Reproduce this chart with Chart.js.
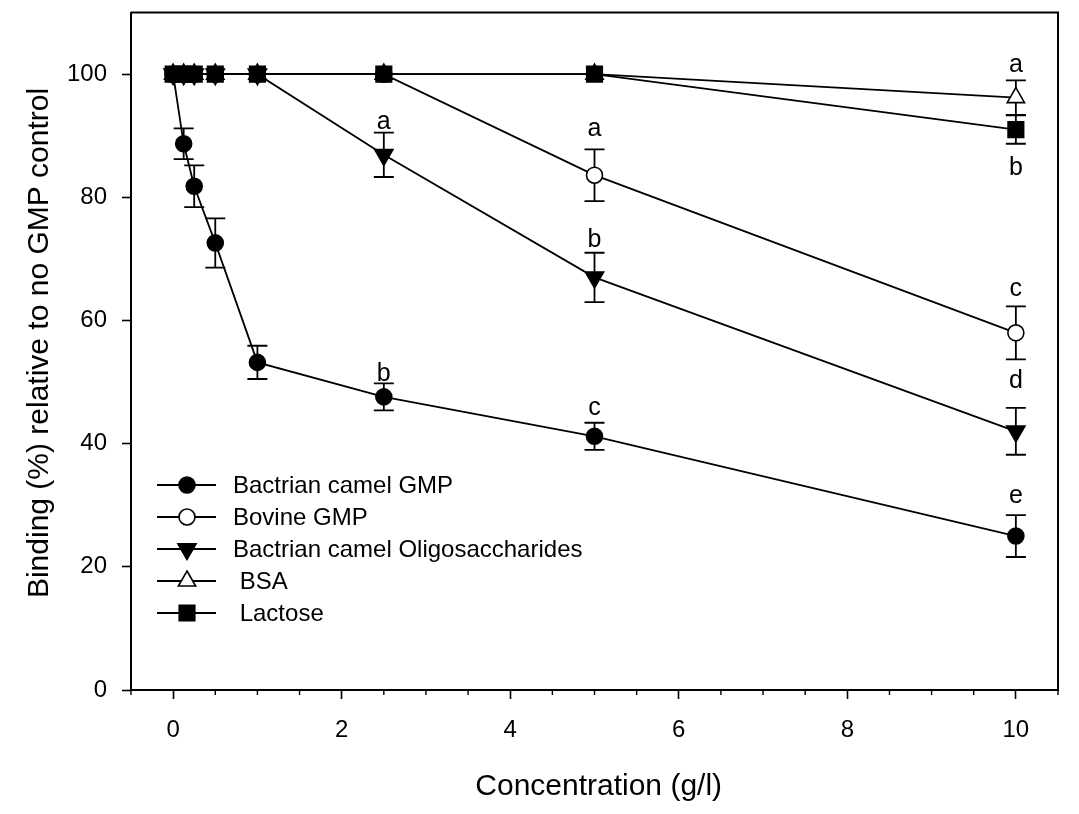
<!DOCTYPE html>
<html>
<head>
<meta charset="utf-8">
<script src="https://cdn.jsdelivr.net/npm/chart.js@4.4.0/dist/chart.umd.min.js"></script>
<style>
  html, body { margin: 0; padding: 0; background: #fff; }
  #wrap { width: 1079px; height: 814px; }
</style>
</head>
<body>
<div id="wrap"><canvas id="chart" width="1079" height="814"></canvas></div>
<script>
// concentrations (g/l) and binding (%) per treatment
const concentrations = [0, 0.125, 0.25, 0.5, 1, 2.5, 5, 10];

const camelGmp      = [100, 88.7, 81.8, 72.6, 53.2, 47.6, 41.2, 25.0];
const camelGmpErr   = [0, 2.5, 3.4, 4.0, 2.7, 2.2, 2.2, 3.4];
const bovineGmp     = [100, 100, 100, 100, 100, 100, 83.6, 58.0];
const bovineGmpErr  = [0, 0, 0, 0, 0, 0, 4.2, 4.3];
const camelOligo    = [100, 100, 100, 100, 100, 86.9, 67.0, 42.0];
const camelOligoErr = [0, 0, 0, 0, 0, 3.6, 4.0, 3.8];
const bsa           = [100, 100, 100, 100, 100, 100, 100, 96.2];
const bsaErr        = [0, 0, 0, 0, 0, 0, 0, 2.8];
const lactose       = [100, 100, 100, 100, 100, 100, 100, 91.0];
const lactoseErr    = [0, 0, 0, 0, 0, 0, 0, 2.3];

const seriesNames = ['Bactrian camel GMP', 'Bovine GMP', 'Bactrian camel Oligosaccharides', ' BSA', ' Lactose'];

// significance letters (x, baseline y)
const letterX    = [2.5, 2.5, 5, 5, 5, 10, 10, 10, 10, 10];
const letterY    = [91.1, 50.2, 89.9, 71.9, 44.7, 100.4, 83.6, 63.9, 49.0, 30.4];
const letterText = ['a', 'b', 'a', 'b', 'c', 'a', 'b', 'c', 'd', 'e'];

const xTicks = [0, 2, 4, 6, 8, 10];
const yTicks = [0, 20, 40, 60, 80, 100];

const FONT = "'Liberation Sans', Arial, sans-serif";
const LW = 1.8;
const AXIS_LW = 2;

function pts(ys) {
  return concentrations.map((x, i) => ({ x: x, y: ys[i] }));
}

function series(label, ys, errs, style, fill, radius, rotation, order) {
  return {
    label: label,
    data: pts(ys),
    errs: errs,
    borderColor: '#000',
    borderWidth: LW,
    backgroundColor: fill,
    pointBackgroundColor: fill,
    pointBorderColor: '#000',
    pointBorderWidth: 1.6,
    pointStyle: style,
    pointRadius: radius,
    pointRotation: rotation,
    tension: 0,
    order: order
  };
}

const datasets = [
  series(seriesNames[0], camelGmp, camelGmpErr, 'circle', '#000', 8, 0, 4),
  series(seriesNames[1], bovineGmp, bovineGmpErr, 'circle', '#fff', 8, 0, 3),
  series(seriesNames[2], camelOligo, camelOligoErr, 'triangle', '#000', 10.5, 180, 2),
  series(seriesNames[3], bsa, bsaErr, 'triangle', '#fff', 10, 0, 1),
  series(seriesNames[4], lactose, lactoseErr, 'rect', '#000', 11, 0, 0)
];

// error bars, drawn behind the markers
const errorBars = {
  id: 'errorBars',
  beforeDatasetsDraw(chart) {
    const ctx = chart.ctx, y = chart.scales.y, x = chart.scales.x;
    ctx.save();
    ctx.strokeStyle = '#000';
    ctx.lineWidth = LW;
    chart.data.datasets.forEach(ds => {
      ds.data.forEach((p, i) => {
        const e = ds.errs[i];
        if (!e) return;
        const px = x.getPixelForValue(p.x);
        const top = y.getPixelForValue(p.y + e);
        const bot = y.getPixelForValue(p.y - e);
        ctx.beginPath();
        ctx.moveTo(px, top); ctx.lineTo(px, bot);
        ctx.moveTo(px - 10, top); ctx.lineTo(px + 10, top);
        ctx.moveTo(px - 10, bot); ctx.lineTo(px + 10, bot);
        ctx.stroke();
      });
    });
    ctx.restore();
  }
};

// frame, minor ticks, letters, legend
const extras = {
  id: 'extras',
  afterDraw(chart) {
    const ctx = chart.ctx, a = chart.chartArea;
    const x = chart.scales.x, y = chart.scales.y;
    ctx.save();
    ctx.strokeStyle = '#000';
    ctx.lineWidth = AXIS_LW;
    ctx.beginPath();
    ctx.moveTo(a.left, a.top); ctx.lineTo(a.right, a.top); ctx.lineTo(a.right, a.bottom);
    ctx.stroke();

    // minor ticks every 0.5 on x
    ctx.lineWidth = 1.4;
    ctx.beginPath();
    for (let v = x.min; v <= x.max + 1e-9; v += 0.5) {
      if (xTicks.includes(v)) continue;
      const px = x.getPixelForValue(v);
      ctx.moveTo(px, a.bottom); ctx.lineTo(px, a.bottom + 5);
    }
    ctx.stroke();

    // significance letters
    ctx.fillStyle = '#000';
    ctx.font = '25px ' + FONT;
    ctx.textAlign = 'center';
    ctx.textBaseline = 'alphabetic';
    letterText.forEach((t, i) => {
      ctx.fillText(t, x.getPixelForValue(letterX[i]), y.getPixelForValue(letterY[i]));
    });

    // legend inside the plot, lower left
    const lx = a.left + 26, rowY = 485, gap = 32;
    ctx.font = '24px ' + FONT;
    ctx.textAlign = 'left';
    ctx.textBaseline = 'middle';
    chart.data.datasets.forEach((ds, i) => {
      const cy = rowY + i * gap;
      ctx.lineWidth = LW;
      ctx.beginPath();
      ctx.moveTo(lx, cy); ctx.lineTo(lx + 59, cy);
      ctx.stroke();
      ctx.fillStyle = ds.pointBackgroundColor;
      ctx.lineWidth = 1.6;
      Chart.helpers.drawPoint(ctx, {
        pointStyle: ds.pointStyle,
        rotation: ds.pointRotation,
        radius: ds.pointRadius,
        borderWidth: 1.6
      }, lx + 30, cy);
      ctx.fillStyle = '#000';
      ctx.fillText(ds.label, lx + 76, cy + 1);
    });
    ctx.restore();
  }
};

new Chart(document.getElementById('chart'), {
  type: 'line',
  data: { datasets: datasets },
  plugins: [errorBars, extras],
  options: {
    responsive: false,
    animation: false,
    devicePixelRatio: 1,
    layout: { padding: { top: 12, right: 21, left: 0, bottom: 0 } },
    plugins: { legend: { display: false }, tooltip: { enabled: false } },
    scales: {
      x: {
        type: 'linear',
        min: -0.5,
        max: 10.5,
        afterBuildTicks: s => { s.ticks = xTicks.map(v => ({ value: v })); },
        afterFit: s => { s.height = 124; s.paddingLeft = 0; s.paddingRight = 0; },
        border: { color: '#000', width: AXIS_LW },
        grid: { drawOnChartArea: false, tickLength: 9, tickColor: '#000', tickWidth: 1.6 },
        ticks: { color: '#000', font: { family: FONT, size: 24 }, padding: 17, maxRotation: 0 },
        title: { display: true, text: ' Concentration (g/l)', color: '#000',
                 font: { family: FONT, size: 30 }, padding: { top: 0, bottom: 9 } }
      },
      y: {
        min: 0,
        max: 110,
        afterBuildTicks: s => { s.ticks = yTicks.map(v => ({ value: v })); },
        afterFit: s => { s.width = 131; s.paddingTop = 0; s.paddingBottom = 0; },
        border: { color: '#000', width: AXIS_LW },
        grid: { drawOnChartArea: false, tickLength: 9, tickColor: '#000', tickWidth: 1.6 },
        ticks: { color: '#000', font: { family: FONT, size: 24 }, padding: 15 },
        title: { display: true, text: '  Binding (%) relative to no GMP control', color: '#000',
                 font: { family: FONT, size: 30 }, padding: { top: 22, bottom: 0 } }
      }
    }
  }
});
</script>
</body>
</html>
